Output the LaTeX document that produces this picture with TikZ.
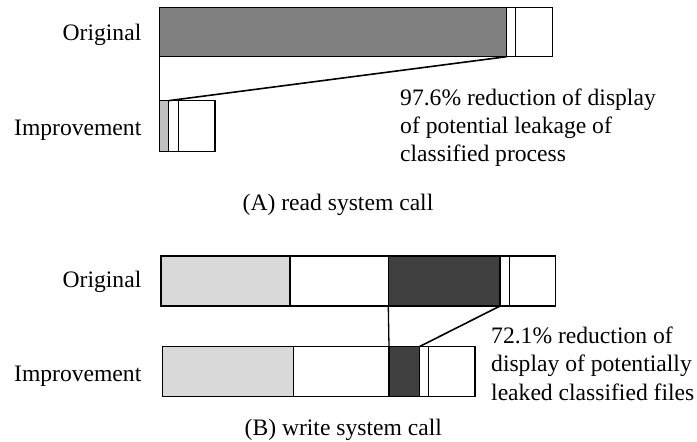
\documentclass[tikz,border=0pt]{standalone}
\usepackage{fontspec}
\setmainfont{Liberation Serif}
\definecolor{midgray}{HTML}{808080}
\definecolor{lightA}{HTML}{C0C0C0}
\definecolor{lightB}{HTML}{D9D9D9}
\definecolor{darkB}{HTML}{404040}
\begin{document}
\begin{tikzpicture}[x=1pt,y=-1pt,
  seg/.style={draw=black, line width=1.2pt, inner sep=0pt, outer sep=0pt, fill=white},
  link/.style={draw=black, line width=1.6pt},
  lbl/.style={inner sep=0pt, font=\fontsize{23.6}{28.3}\selectfont},
]
\useasboundingbox (0,0) rectangle (697,442);
% (A) read
\node[seg, fill=midgray, minimum width=347.2pt, minimum height=49.4pt] (a1) at (332.9,32) {};
\node[seg, minimum width=9.2pt, minimum height=49.4pt] (a2) at (511.1,32) {};
\node[seg, minimum width=36.6pt, minimum height=49.4pt] (a3) at (534,32) {};
\node[seg, fill=lightA, minimum width=9pt, minimum height=51pt] (b1) at (163.8,126.2) {};
\node[seg, minimum width=10pt, minimum height=51pt] (b2) at (173.3,126.2) {};
\node[seg, minimum width=36.7pt, minimum height=51pt] (b3) at (196.65,126.2) {};
\draw[link] (a1.south west) -- (b1.north west);
\draw[link] (a1.south east) -- (b1.north east);
\node[lbl, anchor=base east] (la1) at (141.5,40) {Original};
\node[lbl, anchor=base east] (la2) at (141.5,135) {Improvement};
\node[lbl, anchor=base west] (ta1) at (400,105) {97.6\% reduction of display};
\node[lbl, anchor=base west] (ta2) at (400,133.3) {of potential leakage of};
\node[lbl, anchor=base west] (ta3) at (400,161.7) {classified process};
\node[lbl, anchor=base] (capA) at (338,210) {(A) read system call};
% (B) write
\node[seg, fill=lightB, minimum width=129pt, minimum height=50pt] (c1) at (225.5,281) {};
\node[seg, minimum width=98.3pt, minimum height=50pt] (c2) at (339.15,281) {};
\node[seg, fill=darkB, minimum width=111.7pt, minimum height=50pt] (c3) at (444.15,281) {};
\node[seg, minimum width=9.3pt, minimum height=50pt] (c4) at (504.65,281) {};
\node[seg, minimum width=46.4pt, minimum height=50pt] (c5) at (532.5,281) {};
\node[seg, fill=lightB, minimum width=131pt, minimum height=50pt] (d1) at (227.8,371.7) {};
\node[seg, minimum width=95.7pt, minimum height=50pt] (d2) at (341.15,371.7) {};
\node[seg, fill=darkB, minimum width=30.3pt, minimum height=50pt] (d3) at (404.15,371.7) {};
\node[seg, minimum width=9.4pt, minimum height=50pt] (d4) at (424,371.7) {};
\node[seg, minimum width=46.3pt, minimum height=50pt] (d5) at (451.85,371.7) {};
\draw[link, line width=1.3pt] (c3.south west) -- (d3.north west);
\draw[link] (c3.south east) -- (d3.north east);
\node[lbl, anchor=base east] (lb1) at (141.5,287.7) {Original};
\node[lbl, anchor=base east] (lb2) at (141.5,381.7) {Improvement};
\node[lbl, anchor=base west] (tb1) at (491,343.3) {72.1\% reduction of};
\node[lbl, anchor=base west] (tb2) at (491,371.7) {display of potentially};
\node[lbl, anchor=base west] (tb3) at (491,400) {leaked classified files};
\node[lbl, anchor=base] (capB) at (343.3,435) {(B) write system call};
\end{tikzpicture}
\end{document}
